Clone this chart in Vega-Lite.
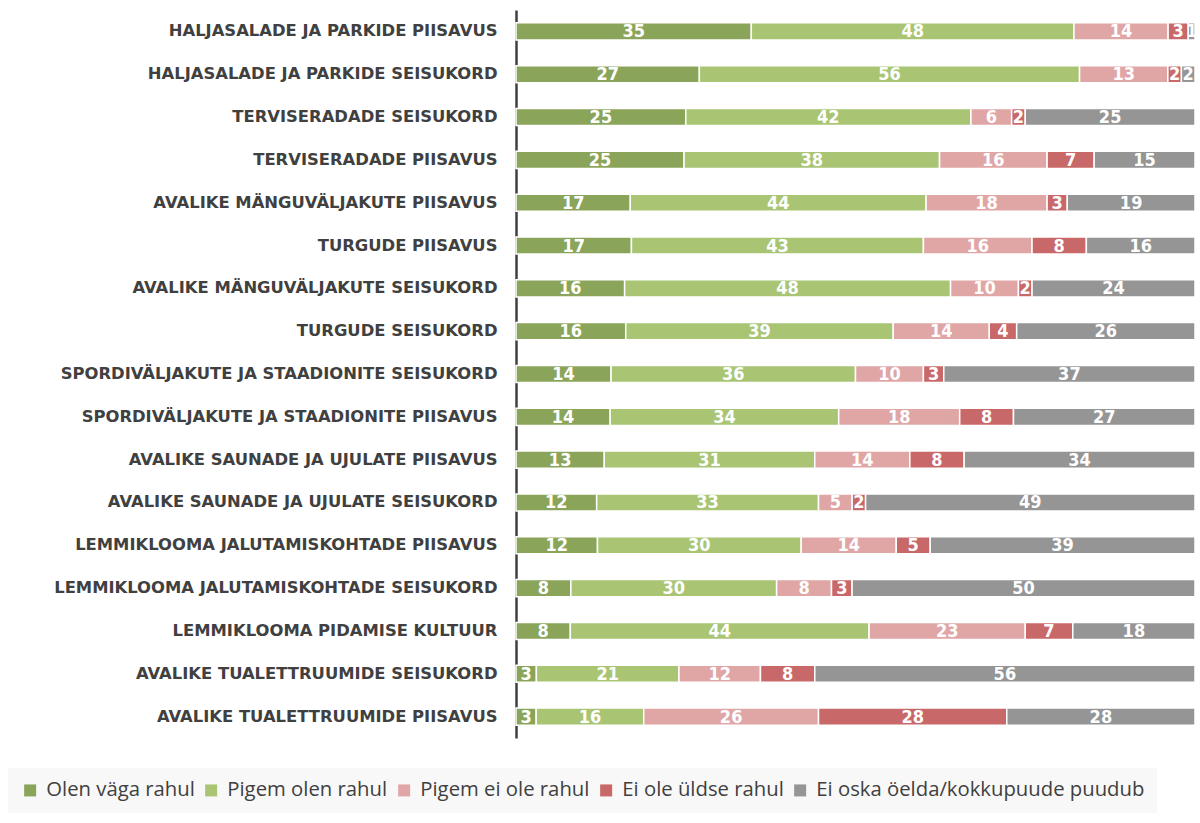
{
  "$schema": "https://vega.github.io/schema/vega-lite/v6.json",
  "width": 679,
  "height": 728,
  "autosize": "none",
  "padding": {"left": 516, "top": 10, "right": 5, "bottom": 85},
  "background": "white",
  "config": {"view": {"stroke": null}},
  "data": {"values": [
    {"c":"HALJASALADE JA PARKIDE PIISAVUS","r":"Olen väga rahul","o":1,"v":35},
    {"c":"HALJASALADE JA PARKIDE PIISAVUS","r":"Pigem olen rahul","o":2,"v":48},
    {"c":"HALJASALADE JA PARKIDE PIISAVUS","r":"Pigem ei ole rahul","o":3,"v":14},
    {"c":"HALJASALADE JA PARKIDE PIISAVUS","r":"Ei ole üldse rahul","o":4,"v":3},
    {"c":"HALJASALADE JA PARKIDE PIISAVUS","r":"Ei oska öelda/kokkupuude puudub","o":5,"v":1},
    {"c":"HALJASALADE JA PARKIDE SEISUKORD","r":"Olen väga rahul","o":1,"v":27},
    {"c":"HALJASALADE JA PARKIDE SEISUKORD","r":"Pigem olen rahul","o":2,"v":56},
    {"c":"HALJASALADE JA PARKIDE SEISUKORD","r":"Pigem ei ole rahul","o":3,"v":13},
    {"c":"HALJASALADE JA PARKIDE SEISUKORD","r":"Ei ole üldse rahul","o":4,"v":2},
    {"c":"HALJASALADE JA PARKIDE SEISUKORD","r":"Ei oska öelda/kokkupuude puudub","o":5,"v":2},
    {"c":"TERVISERADADE SEISUKORD","r":"Olen väga rahul","o":1,"v":25},
    {"c":"TERVISERADADE SEISUKORD","r":"Pigem olen rahul","o":2,"v":42},
    {"c":"TERVISERADADE SEISUKORD","r":"Pigem ei ole rahul","o":3,"v":6},
    {"c":"TERVISERADADE SEISUKORD","r":"Ei ole üldse rahul","o":4,"v":2},
    {"c":"TERVISERADADE SEISUKORD","r":"Ei oska öelda/kokkupuude puudub","o":5,"v":25},
    {"c":"TERVISERADADE PIISAVUS","r":"Olen väga rahul","o":1,"v":25},
    {"c":"TERVISERADADE PIISAVUS","r":"Pigem olen rahul","o":2,"v":38},
    {"c":"TERVISERADADE PIISAVUS","r":"Pigem ei ole rahul","o":3,"v":16},
    {"c":"TERVISERADADE PIISAVUS","r":"Ei ole üldse rahul","o":4,"v":7},
    {"c":"TERVISERADADE PIISAVUS","r":"Ei oska öelda/kokkupuude puudub","o":5,"v":15},
    {"c":"AVALIKE MÄNGUVÄLJAKUTE PIISAVUS","r":"Olen väga rahul","o":1,"v":17},
    {"c":"AVALIKE MÄNGUVÄLJAKUTE PIISAVUS","r":"Pigem olen rahul","o":2,"v":44},
    {"c":"AVALIKE MÄNGUVÄLJAKUTE PIISAVUS","r":"Pigem ei ole rahul","o":3,"v":18},
    {"c":"AVALIKE MÄNGUVÄLJAKUTE PIISAVUS","r":"Ei ole üldse rahul","o":4,"v":3},
    {"c":"AVALIKE MÄNGUVÄLJAKUTE PIISAVUS","r":"Ei oska öelda/kokkupuude puudub","o":5,"v":19},
    {"c":"TURGUDE PIISAVUS","r":"Olen väga rahul","o":1,"v":17},
    {"c":"TURGUDE PIISAVUS","r":"Pigem olen rahul","o":2,"v":43},
    {"c":"TURGUDE PIISAVUS","r":"Pigem ei ole rahul","o":3,"v":16},
    {"c":"TURGUDE PIISAVUS","r":"Ei ole üldse rahul","o":4,"v":8},
    {"c":"TURGUDE PIISAVUS","r":"Ei oska öelda/kokkupuude puudub","o":5,"v":16},
    {"c":"AVALIKE MÄNGUVÄLJAKUTE SEISUKORD","r":"Olen väga rahul","o":1,"v":16},
    {"c":"AVALIKE MÄNGUVÄLJAKUTE SEISUKORD","r":"Pigem olen rahul","o":2,"v":48},
    {"c":"AVALIKE MÄNGUVÄLJAKUTE SEISUKORD","r":"Pigem ei ole rahul","o":3,"v":10},
    {"c":"AVALIKE MÄNGUVÄLJAKUTE SEISUKORD","r":"Ei ole üldse rahul","o":4,"v":2},
    {"c":"AVALIKE MÄNGUVÄLJAKUTE SEISUKORD","r":"Ei oska öelda/kokkupuude puudub","o":5,"v":24},
    {"c":"TURGUDE SEISUKORD","r":"Olen väga rahul","o":1,"v":16},
    {"c":"TURGUDE SEISUKORD","r":"Pigem olen rahul","o":2,"v":39},
    {"c":"TURGUDE SEISUKORD","r":"Pigem ei ole rahul","o":3,"v":14},
    {"c":"TURGUDE SEISUKORD","r":"Ei ole üldse rahul","o":4,"v":4},
    {"c":"TURGUDE SEISUKORD","r":"Ei oska öelda/kokkupuude puudub","o":5,"v":26},
    {"c":"SPORDIVÄLJAKUTE JA STAADIONITE SEISUKORD","r":"Olen väga rahul","o":1,"v":14},
    {"c":"SPORDIVÄLJAKUTE JA STAADIONITE SEISUKORD","r":"Pigem olen rahul","o":2,"v":36},
    {"c":"SPORDIVÄLJAKUTE JA STAADIONITE SEISUKORD","r":"Pigem ei ole rahul","o":3,"v":10},
    {"c":"SPORDIVÄLJAKUTE JA STAADIONITE SEISUKORD","r":"Ei ole üldse rahul","o":4,"v":3},
    {"c":"SPORDIVÄLJAKUTE JA STAADIONITE SEISUKORD","r":"Ei oska öelda/kokkupuude puudub","o":5,"v":37},
    {"c":"SPORDIVÄLJAKUTE JA STAADIONITE PIISAVUS","r":"Olen väga rahul","o":1,"v":14},
    {"c":"SPORDIVÄLJAKUTE JA STAADIONITE PIISAVUS","r":"Pigem olen rahul","o":2,"v":34},
    {"c":"SPORDIVÄLJAKUTE JA STAADIONITE PIISAVUS","r":"Pigem ei ole rahul","o":3,"v":18},
    {"c":"SPORDIVÄLJAKUTE JA STAADIONITE PIISAVUS","r":"Ei ole üldse rahul","o":4,"v":8},
    {"c":"SPORDIVÄLJAKUTE JA STAADIONITE PIISAVUS","r":"Ei oska öelda/kokkupuude puudub","o":5,"v":27},
    {"c":"AVALIKE SAUNADE JA UJULATE PIISAVUS","r":"Olen väga rahul","o":1,"v":13},
    {"c":"AVALIKE SAUNADE JA UJULATE PIISAVUS","r":"Pigem olen rahul","o":2,"v":31},
    {"c":"AVALIKE SAUNADE JA UJULATE PIISAVUS","r":"Pigem ei ole rahul","o":3,"v":14},
    {"c":"AVALIKE SAUNADE JA UJULATE PIISAVUS","r":"Ei ole üldse rahul","o":4,"v":8},
    {"c":"AVALIKE SAUNADE JA UJULATE PIISAVUS","r":"Ei oska öelda/kokkupuude puudub","o":5,"v":34},
    {"c":"AVALIKE SAUNADE JA UJULATE SEISUKORD","r":"Olen väga rahul","o":1,"v":12},
    {"c":"AVALIKE SAUNADE JA UJULATE SEISUKORD","r":"Pigem olen rahul","o":2,"v":33},
    {"c":"AVALIKE SAUNADE JA UJULATE SEISUKORD","r":"Pigem ei ole rahul","o":3,"v":5},
    {"c":"AVALIKE SAUNADE JA UJULATE SEISUKORD","r":"Ei ole üldse rahul","o":4,"v":2},
    {"c":"AVALIKE SAUNADE JA UJULATE SEISUKORD","r":"Ei oska öelda/kokkupuude puudub","o":5,"v":49},
    {"c":"LEMMIKLOOMA JALUTAMISKOHTADE PIISAVUS","r":"Olen väga rahul","o":1,"v":12},
    {"c":"LEMMIKLOOMA JALUTAMISKOHTADE PIISAVUS","r":"Pigem olen rahul","o":2,"v":30},
    {"c":"LEMMIKLOOMA JALUTAMISKOHTADE PIISAVUS","r":"Pigem ei ole rahul","o":3,"v":14},
    {"c":"LEMMIKLOOMA JALUTAMISKOHTADE PIISAVUS","r":"Ei ole üldse rahul","o":4,"v":5},
    {"c":"LEMMIKLOOMA JALUTAMISKOHTADE PIISAVUS","r":"Ei oska öelda/kokkupuude puudub","o":5,"v":39},
    {"c":"LEMMIKLOOMA JALUTAMISKOHTADE SEISUKORD","r":"Olen väga rahul","o":1,"v":8},
    {"c":"LEMMIKLOOMA JALUTAMISKOHTADE SEISUKORD","r":"Pigem olen rahul","o":2,"v":30},
    {"c":"LEMMIKLOOMA JALUTAMISKOHTADE SEISUKORD","r":"Pigem ei ole rahul","o":3,"v":8},
    {"c":"LEMMIKLOOMA JALUTAMISKOHTADE SEISUKORD","r":"Ei ole üldse rahul","o":4,"v":3},
    {"c":"LEMMIKLOOMA JALUTAMISKOHTADE SEISUKORD","r":"Ei oska öelda/kokkupuude puudub","o":5,"v":50},
    {"c":"LEMMIKLOOMA PIDAMISE KULTUUR","r":"Olen väga rahul","o":1,"v":8},
    {"c":"LEMMIKLOOMA PIDAMISE KULTUUR","r":"Pigem olen rahul","o":2,"v":44},
    {"c":"LEMMIKLOOMA PIDAMISE KULTUUR","r":"Pigem ei ole rahul","o":3,"v":23},
    {"c":"LEMMIKLOOMA PIDAMISE KULTUUR","r":"Ei ole üldse rahul","o":4,"v":7},
    {"c":"LEMMIKLOOMA PIDAMISE KULTUUR","r":"Ei oska öelda/kokkupuude puudub","o":5,"v":18},
    {"c":"AVALIKE TUALETTRUUMIDE SEISUKORD","r":"Olen väga rahul","o":1,"v":3},
    {"c":"AVALIKE TUALETTRUUMIDE SEISUKORD","r":"Pigem olen rahul","o":2,"v":21},
    {"c":"AVALIKE TUALETTRUUMIDE SEISUKORD","r":"Pigem ei ole rahul","o":3,"v":12},
    {"c":"AVALIKE TUALETTRUUMIDE SEISUKORD","r":"Ei ole üldse rahul","o":4,"v":8},
    {"c":"AVALIKE TUALETTRUUMIDE SEISUKORD","r":"Ei oska öelda/kokkupuude puudub","o":5,"v":56},
    {"c":"AVALIKE TUALETTRUUMIDE PIISAVUS","r":"Olen väga rahul","o":1,"v":3},
    {"c":"AVALIKE TUALETTRUUMIDE PIISAVUS","r":"Pigem olen rahul","o":2,"v":16},
    {"c":"AVALIKE TUALETTRUUMIDE PIISAVUS","r":"Pigem ei ole rahul","o":3,"v":26},
    {"c":"AVALIKE TUALETTRUUMIDE PIISAVUS","r":"Ei ole üldse rahul","o":4,"v":28},
    {"c":"AVALIKE TUALETTRUUMIDE PIISAVUS","r":"Ei oska öelda/kokkupuude puudub","o":5,"v":28}
  ]},
  "encoding": {
    "y": {
      "field": "c", "type": "nominal", "sort": null,
      "scale": {"paddingInner": 0.6, "paddingOuter": 0.3},
      "axis": {
        "title": null, "ticks": false, "domainColor": "#404040", "domainWidth": 2.5,
        "labelFont": "DejaVu Sans", "labelFontWeight": "bold", "labelFontSize": 16.4,
        "labelColor": "#404040", "labelPadding": 19, "labelLimit": 520
      }
    },
    "x": {
      "field": "v", "type": "quantitative", "stack": "normalize",
      "scale": {"nice": false, "zero": true}, "axis": null
    },
    "order": {"field": "o"}
  },
  "layer": [
    {
      "mark": {"type": "bar", "stroke": "white", "strokeWidth": 1.5},
      "encoding": {
        "color": {
          "field": "r", "type": "nominal",
          "scale": {
            "domain": ["Olen väga rahul", "Pigem olen rahul", "Pigem ei ole rahul", "Ei ole üldse rahul", "Ei oska öelda/kokkupuude puudub"],
            "range": ["#8aa55a", "#a9c574", "#e0a6a6", "#c96868", "#959595"]
          },
          "legend": {
            "title": null, "orient": "none", "legendX": -508, "legendY": 758,
            "direction": "horizontal", "columns": 5, "symbolType": "square",
            "symbolSize": 144, "symbolStrokeWidth": 0, "labelFont": "Open Sans",
            "labelFontSize": 20.3, "labelColor": "#404040", "columnPadding": 6,
            "fillColor": "#f8f8f8", "padding": 12, "labelOffset": 6, "labelLimit": 500
          }
        }
      }
    },
    {
      "mark": {"type": "text", "color": "white", "font": "DejaVu Sans Condensed, Lato", "fontWeight": "bold", "fontSize": 18, "baseline": "middle", "align": "center", "dy": 1},
      "encoding": {
        "x": {"field": "v", "type": "quantitative", "stack": "normalize", "bandPosition": 0.5},
        "text": {"field": "v", "type": "quantitative"}
      }
    }
  ]
}
